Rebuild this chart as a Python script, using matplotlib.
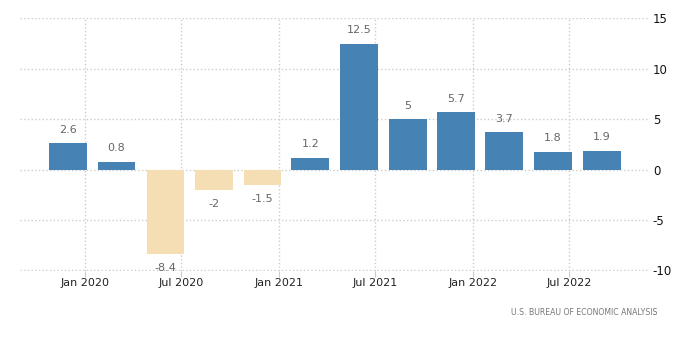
import matplotlib.pyplot as plt
import matplotlib.dates as mdates
import pandas as pd

plt.rcParams["axes.unicode_minus"] = False

# quarterly GDP growth, annualised (bar centres)
quarters = ["2019-12-01", "2020-03-01", "2020-06-01", "2020-09-01",
            "2020-12-01", "2021-03-01", "2021-06-01", "2021-09-01",
            "2021-12-01", "2022-03-01", "2022-06-01", "2022-09-01"]
values = [2.6, 0.8, -8.4, -2, -1.5, 1.2, 12.5, 5, 5.7, 3.7, 1.8, 1.9]
labels = ["2.6", "0.8", "-8.4", "-2", "-1.5", "1.2", "12.5", "5", "5.7", "3.7", "1.8", "1.9"]
ticks = ["2020-01-01", "2020-07-01", "2021-01-01", "2021-07-01", "2022-01-01", "2022-07-01"]
yticks = [-10, -5, 0, 5, 10, 15]

dates = pd.to_datetime(quarters)
colors = ["#4682b4" if v >= 0 else "#f5deb3" for v in values]

fig = plt.figure(figsize=(7, 3.62), dpi=100)
ax = fig.add_axes([0.0286, 0.2514, 0.9, 0.699])

ax.bar(dates, values, width=71, color=colors, zorder=3)

for d, v, lab in zip(dates, values, labels):
    off = 9.5 if v >= 0 else -10
    ax.annotate(lab, (d, v), xytext=(0, off), textcoords="offset points",
                ha="center", va="center", fontsize=8, color="#666666")

ax.set_xlim(pd.Timestamp("2019-09-01"), pd.Timestamp("2022-12-01"))
ax.set_ylim(-10.05, 15.05)
ax.set_xticks(pd.to_datetime(ticks))
ax.xaxis.set_major_formatter(mdates.DateFormatter("%b %Y"))
ax.set_yticks(yticks)
ax.yaxis.tick_right()

ax.grid(True, color="#cccccc", linestyle=":", linewidth=1, zorder=0)
for s in ax.spines.values():
    s.set_visible(False)
ax.tick_params(axis="x", length=4, color="#cccccc", labelsize=8, labelcolor="#222222", pad=1)
ax.tick_params(axis="y", length=0, labelsize=8.5, labelcolor="#111111", pad=2)

fig.text(0.939, 0.138, "U.S. BUREAU OF ECONOMIC ANALYSIS", ha="right", va="center",
         fontsize=5.6, color="#777777")

fig.savefig("out.png", dpi=100)
